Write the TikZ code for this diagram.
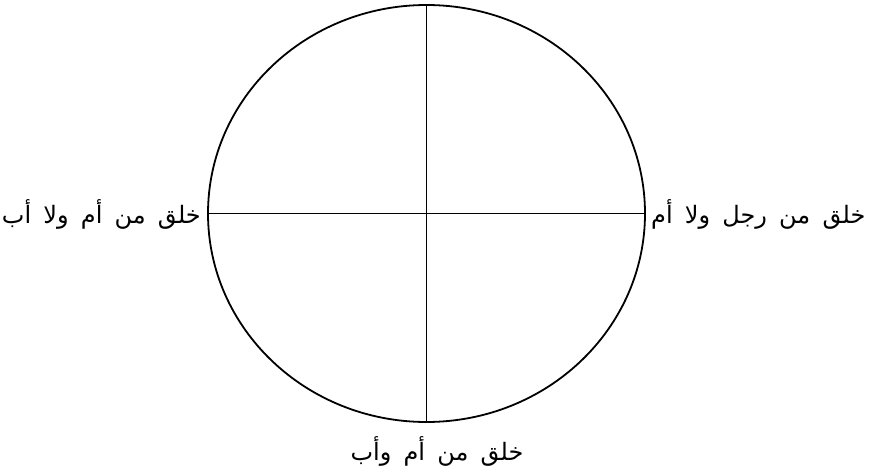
\documentclass[tikz,border=0pt]{standalone}
\usepackage{fontspec}
\TeXXeTstate=1
\newfontfamily\arabicfont[Script=Arabic,WordSpace=1.6]{DejaVu Sans}
\tikzset{lbl/.style={font=\arabicfont\fontsize{24}{27}\selectfont, inner sep=0pt},
  ln/.style={line width=1.8pt}}
\begin{document}
\begin{tikzpicture}[x=1pt,y=-1pt]
\useasboundingbox (0,0) rectangle (890,473);
\coordinate (c) at (426.5,213.5);
\draw[ln] (c) ellipse [x radius=218.5, y radius=208.5];
\coordinate (t) at (426.5,5);
\coordinate (b) at (426.5,422);
\coordinate (l) at (208,213.5);
\coordinate (r) at (645,213.5);
\draw[ln] (t) -- (b);
\draw[ln] (l) -- (r);
\node[lbl, anchor=east] (L) at (201,214) {\beginR خلق من أم ولا أب\endR};
\node[lbl, anchor=west] (R) at (651,214) {\beginR خلق من رجل ولا أم\endR};
\node[lbl] (B) at (437,451) {\beginR خلق من أم وأب\endR};
\end{tikzpicture}
\end{document}
